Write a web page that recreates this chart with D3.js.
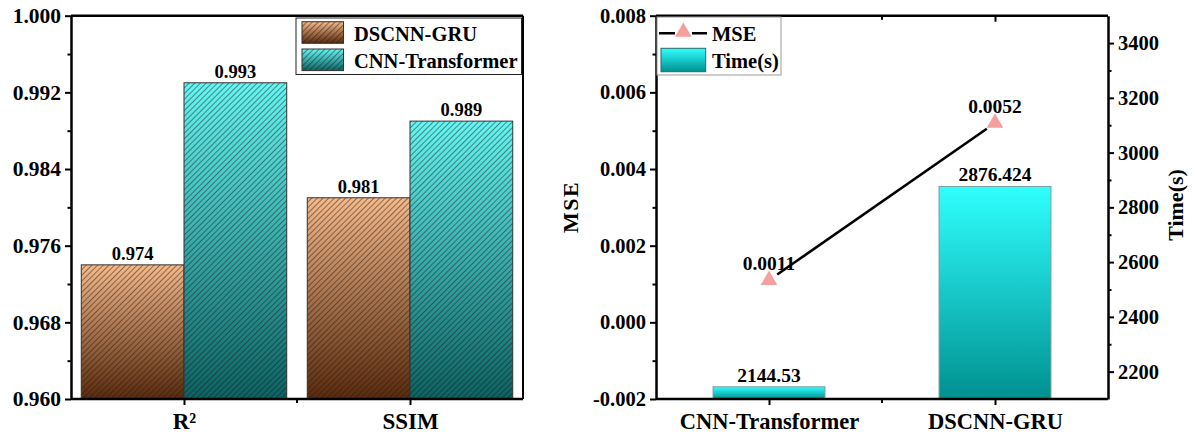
<!DOCTYPE html>
<html><head><meta charset="utf-8">
<script src="https://cdn.jsdelivr.net/npm/d3@7"></script>
<style>
html,body{margin:0;padding:0;background:#fff;}
svg text{font-family:"Liberation Serif","Times New Roman",serif !important;font-weight:bold;fill:#000;}
</style></head>
<body><svg id="c" width="1195" height="436"></svg>
<script>
// ---- data ----
const metrics = ["R²", "SSIM"];
const models = ["DSCNN-GRU", "CNN-Transformer"];
const dscnnGru = [0.974, 0.981];
const cnnTransformer = [0.993, 0.989];
const leftTicks = [0.960, 0.968, 0.976, 0.984, 0.992, 1.000];
const leftMinor = [0.964, 0.972, 0.980, 0.988, 0.996];

const models2 = ["CNN-Transformer", "DSCNN-GRU"];
const mse = [0.0011, 0.0052];
const mseLabels = ["0.0011", "0.0052"];
const timeS = [2144.53, 2876.424];
const mseTicks = [-0.002, 0.000, 0.002, 0.004, 0.006, 0.008];
const mseMinor = [-0.001, 0.001, 0.003, 0.005, 0.007];
const timeTicks = [2200, 2400, 2600, 2800, 3000, 3200, 3400];
const timeMinor = [2300, 2500, 2700, 2900, 3100, 3300];

(function(){
const svg = d3.select("#c");
const defs = svg.append("defs");
function grad(id, c1, c2){
  const g = defs.append("linearGradient").attr("id", id).attr("x1",0).attr("y1",0).attr("x2",0).attr("y2",1);
  g.append("stop").attr("offset","0%").attr("stop-color",c1);
  g.append("stop").attr("offset","100%").attr("stop-color",c2);
}
grad("gBrown", "#f6b98a", "#5a2a0c");
grad("gCyan", "#66f6f3", "#0c6262");
grad("gTime", "#30ffff", "#009090");
const pat = defs.append("pattern").attr("id","hatch").attr("patternUnits","userSpaceOnUse")
  .attr("width",4).attr("height",10).attr("patternTransform","rotate(45)");
pat.append("line").attr("x1",0.5).attr("y1",0).attr("x2",0.5).attr("y2",10)
  .attr("stroke","#1a1a1a").attr("stroke-width",0.7).attr("stroke-opacity",0.7);

const yTop = 15.7, yBot = 399;
function styleAxis(g, w){
  g.attr("font-family", null).attr("font-size", null);
  g.select(".domain").attr("stroke","#000").attr("stroke-width",w||2.5);
  g.selectAll(".tick line").attr("stroke","#000").attr("stroke-width",2);
}

// ================= LEFT CHART =================
const xL = d3.scaleBand().domain(metrics).range([71, 523]).padding(0);
const step = xL.bandwidth();
const xInner = d3.scaleBand().domain(models).range([0, step]).paddingOuter(0.1).paddingInner(0);
const yL = d3.scaleLinear().domain([0.960, 1.000]).range([yBot, yTop]);
const seriesL = [dscnnGru, cnnTransformer];
const fillsL = ["url(#gBrown)", "url(#gCyan)"];

const gL = svg.append("g");
models.forEach((m, si) => {
  metrics.forEach((c, ci) => {
    const v = seriesL[si][ci];
    const x = xL(c) + xInner(m), w = xInner.bandwidth();
    const y = yL(v), h = yBot - y;
    gL.append("rect").attr("x",x).attr("y",y).attr("width",w).attr("height",h).attr("fill",fillsL[si]);
    gL.append("rect").attr("x",x).attr("y",y).attr("width",w).attr("height",h).attr("fill","url(#hatch)")
      .attr("stroke","#333").attr("stroke-width",1);
    gL.append("text").attr("x",x + w/2).attr("y",y - 5).attr("text-anchor","middle")
      .attr("font-size",18.5).text(v.toFixed(3));
  });
});
gL.append("line").attr("x1",71).attr("x2",523).attr("y1",yTop).attr("y2",yTop).attr("stroke","#000").attr("stroke-width",2.5);
gL.append("line").attr("x1",523).attr("x2",523).attr("y1",yTop).attr("y2",yBot).attr("stroke","#000").attr("stroke-width",2);
const axL = gL.append("g").attr("transform","translate(71,0)")
  .call(d3.axisLeft(yL).tickValues(leftTicks).tickFormat(d3.format(".3f")).tickSize(6).tickSizeOuter(0).tickPadding(4));
styleAxis(axL);
axL.selectAll(".tick text").attr("font-size",21.5);
const axLm = gL.append("g").attr("transform","translate(71,0)")
  .call(d3.axisLeft(yL).tickValues(leftMinor).tickFormat("").tickSize(3.5).tickSizeOuter(0));
styleAxis(axLm); axLm.select(".domain").remove();
const axB = gL.append("g").attr("transform",`translate(0,${yBot})`)
  .call(d3.axisBottom(d3.scalePoint().domain(metrics).range([xL(metrics[0])+step/2, xL(metrics[1])+step/2]))
  .tickSize(6).tickSizeOuter(0).tickPadding(8));
axB.select(".domain").remove();
gL.append("line").attr("x1",71).attr("x2",523).attr("y1",yBot).attr("y2",yBot).attr("stroke","#000").attr("stroke-width",2.5);
styleAxis(axB);
axB.selectAll(".tick text").attr("font-size",23);
gL.append("line").attr("x1",xL(metrics[1])).attr("x2",xL(metrics[1])).attr("y1",yBot).attr("y2",yBot+4).attr("stroke","#000").attr("stroke-width",2);

const lgL = gL.append("g");
lgL.append("rect").attr("x",296).attr("y",18).attr("width",225.5).attr("height",56.5).attr("fill","#fff").attr("stroke","#222").attr("stroke-width",1);
models.forEach((m,i) => {
  const yy = 21.7 + i*27.3;
  lgL.append("rect").attr("x",302).attr("y",yy).attr("width",41.5).attr("height",21.6).attr("fill",fillsL[i]);
  lgL.append("rect").attr("x",302).attr("y",yy).attr("width",41.5).attr("height",21.6).attr("fill","url(#hatch)").attr("stroke","#333").attr("stroke-width",1);
  lgL.append("text").attr("x",354).attr("y",yy+19).attr("font-size",20.5).text(m);
});

// ================= RIGHT CHART =================
const x0 = 656, x1 = 1108;
const xR = d3.scaleBand().domain(models2).range([x0, x1]).padding(0);
const stepR = xR.bandwidth();
const yM = d3.scaleLinear().domain([-0.002, 0.008]).range([yBot, yTop]);
const yT = d3.scaleLinear().domain([2100, 3500]).range([yBot, yTop]);
const gR = svg.append("g");
const bw = stepR * 0.495;
models2.forEach((m,i) => {
  const cx = xR(m) + stepR/2;
  const y = yT(timeS[i]);
  gR.append("rect").attr("x",cx-bw/2).attr("y",y).attr("width",bw).attr("height",yBot-y)
    .attr("fill","url(#gTime)").attr("stroke","#7a9a9a").attr("stroke-width",1);
  gR.append("text").attr("x",cx).attr("y",y-5).attr("text-anchor","middle").attr("font-size",19.5).text(String(timeS[i]));
});
const pts = models2.map((m,i) => [xR(m)+stepR/2, yM(mse[i])]);
const dx = pts[1][0]-pts[0][0], dy = pts[1][1]-pts[0][1], len = Math.hypot(dx,dy), gap = 10;
gR.append("line").attr("x1",pts[0][0]+dx/len*gap).attr("y1",pts[0][1]+dy/len*gap)
  .attr("x2",pts[1][0]-dx/len*gap).attr("y2",pts[1][1]-dy/len*gap)
  .attr("stroke","#000").attr("stroke-width",2.6);
const tri = d3.symbol().type(d3.symbolTriangle).size(120);
pts.forEach((p,i) => {
  gR.append("path").attr("d",tri()).attr("transform",`translate(${p[0]},${p[1]})`).attr("fill","#f5a09d");
  gR.append("text").attr("x",p[0]).attr("y",p[1]-10).attr("text-anchor","middle").attr("font-size",19.5).text(mseLabels[i]);
});
gR.append("line").attr("x1",x0).attr("x2",x1).attr("y1",yTop).attr("y2",yTop).attr("stroke","#000").attr("stroke-width",2.5);
const axRL = gR.append("g").attr("transform",`translate(${x0},0)`)
  .call(d3.axisLeft(yM).tickValues(mseTicks).tickFormat(d => d3.format(".3f")(d).replace("−","-")).tickSize(6).tickSizeOuter(0).tickPadding(4));
styleAxis(axRL);
axRL.selectAll(".tick text").attr("font-size",20.5);
const axRLm = gR.append("g").attr("transform",`translate(${x0},0)`)
  .call(d3.axisLeft(yM).tickValues(mseMinor).tickFormat("").tickSize(3.5));
styleAxis(axRLm); axRLm.select(".domain").remove();
const axRR = gR.append("g").attr("transform",`translate(${x1},0)`)
  .call(d3.axisRight(yT).tickValues(timeTicks).tickFormat(d3.format("d")).tickSize(6).tickSizeOuter(0).tickPadding(4));
styleAxis(axRR);
axRR.selectAll(".tick text").attr("font-size",20.5);
const axRRm = gR.append("g").attr("transform",`translate(${x1},0)`)
  .call(d3.axisRight(yT).tickValues(timeMinor).tickFormat("").tickSize(3.5));
styleAxis(axRRm); axRRm.select(".domain").remove();
const catPos = d3.scalePoint().domain(models2).range([xR(models2[0])+stepR/2, xR(models2[1])+stepR/2]);
const axRB = gR.append("g").attr("transform",`translate(0,${yBot})`)
  .call(d3.axisBottom(catPos).tickSize(6).tickSizeOuter(0).tickPadding(8));
axRB.select(".domain").remove();
styleAxis(axRB);
axRB.selectAll(".tick text").attr("font-size",22.5);
gR.append("line").attr("x1",x0).attr("x2",x1).attr("y1",yBot).attr("y2",yBot).attr("stroke","#000").attr("stroke-width",2.5);
const axRT = gR.append("g").attr("transform",`translate(0,${yTop})`)
  .call(d3.axisBottom(catPos).tickSize(6).tickSizeOuter(0).tickFormat(""));
axRT.select(".domain").remove(); styleAxis(axRT);
const midR = xR(models2[1]);
gR.append("line").attr("x1",midR).attr("x2",midR).attr("y1",yBot).attr("y2",yBot+4).attr("stroke","#000").attr("stroke-width",2);
gR.append("line").attr("x1",midR).attr("x2",midR).attr("y1",yTop).attr("y2",yTop+4).attr("stroke","#000").attr("stroke-width",2);

gR.append("text").attr("transform",`translate(578,207) rotate(-90)`).attr("text-anchor","middle")
  .attr("font-size",22).attr("letter-spacing",1.5).text("MSE");
gR.append("text").attr("transform",`translate(1183,205) rotate(-90)`).attr("text-anchor","middle")
  .attr("font-size",22).text("Time(s)");

const lgR = gR.append("g");
lgR.append("rect").attr("x",657).attr("y",17).attr("width",124).attr("height",58).attr("fill","#fff").attr("stroke","#999").attr("stroke-width",1);
lgR.append("line").attr("x1",659).attr("x2",707).attr("y1",33.3).attr("y2",33.3).attr("stroke","#000").attr("stroke-width",2.6);
lgR.append("rect").attr("x",675).attr("y",25).attr("width",17).attr("height",16).attr("fill","#fff");
lgR.append("path").attr("d",tri()).attr("transform","translate(683.3,32)").attr("fill","#f5a09d");
lgR.append("text").attr("x",712).attr("y",41).attr("font-size",20.5).text("MSE");
lgR.append("rect").attr("x",661).attr("y",48.3).attr("width",44.7).attr("height",23.4).attr("fill","url(#gTime)").attr("stroke","#2a6a6a").attr("stroke-width",1);
lgR.append("text").attr("x",712).attr("y",68).attr("font-size",20.5).text("Time(s)");
})();
</script></body></html>
